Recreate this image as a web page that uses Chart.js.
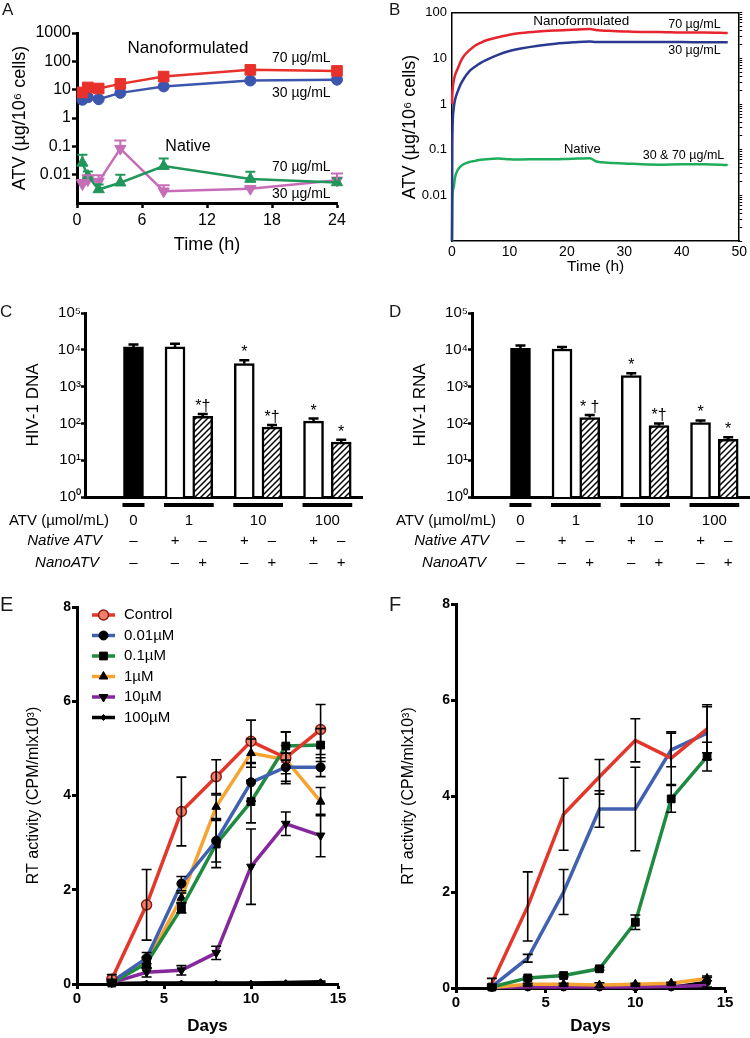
<!DOCTYPE html>
<html>
<head>
<meta charset="utf-8">
<title>ATV uptake and antiretroviral activity</title>
<script src="https://cdn.jsdelivr.net/npm/chart.js@4.4.1/dist/chart.umd.min.js"></script>
<style>
  html, body { margin: 0; padding: 0; background: #fff; }
  #fig { position: relative; width: 750px; height: 1038px; overflow: hidden; }
  #fig canvas { position: absolute; }
  .tag { position: absolute; font-family: "Liberation Sans", Arial, sans-serif; color: #1a1a1a; line-height: 1; }
</style>
</head>
<body>
<div id="fig">
  <canvas id="cA" width="375" height="260" style="left:0;top:0"></canvas>
  <canvas id="cB" width="375" height="280" style="left:375px;top:0"></canvas>
  <canvas id="cC" width="375" height="290" style="left:0;top:290px"></canvas>
  <canvas id="cD" width="363" height="290" style="left:387px;top:290px"></canvas>
  <canvas id="cE" width="375" height="448" style="left:0;top:590px"></canvas>
  <canvas id="cF" width="375" height="448" style="left:375px;top:590px"></canvas>
  <div class="tag" style="left:2px;top:1px;font-size:17px">A</div>
  <div class="tag" style="left:389px;top:1px;font-size:17px">B</div>
  <div class="tag" style="left:0;top:303px;font-size:17px">C</div>
  <div class="tag" style="left:389px;top:303px;font-size:17px">D</div>
  <div class="tag" style="left:0;top:594px;font-size:20px">E</div>
  <div class="tag" style="left:389px;top:594px;font-size:20px">F</div>
</div>
<script>
const FONT = '"Liberation Sans", Arial, Helvetica, sans-serif';
Chart.defaults.font.family = FONT;
Chart.defaults.color = '#000';
Chart.defaults.animation = false;
Chart.defaults.responsive = false;
Chart.defaults.plugins.legend.display = false;
Chart.defaults.plugins.tooltip.enabled = false;

// ---- A: cell uptake over 24 h (µg / 10^6 cells)
const aHours = [0.5, 1, 2, 4, 8, 16, 24];
const aNano70 = [8, 12, 11, 16, 29, 50, 46];
const aNano30 = [4.4, 5.4, 4.6, 7.7, 13, 21, 22.5];
const aNative70 = [0.026, 0.009, 0.003, 0.0052, 0.02, 0.007, 0.0053];
const aNative70Hi = [0.05, 0.013, 0.0045, 0.01, 0.037, 0.0127, 0.0075];
const aNative30 = [0.0047, 0.0065, 0.0057, 0.083, 0.0026, 0.0032, 0.0063];
const aNative30Hi = [0.0065, 0.0095, 0.0095, 0.16, 0.0042, 0.0036, 0.011];
const aLogTicks = [0.01, 0.1, 1, 10, 100, 1000];
const aHourTicks = [0, 6, 12, 18, 24];

// ---- B: continuous uptake trace over 48 h
const bHours = [0, 0.05, 0.1, 0.3, 0.5, 1, 1.5, 2, 3, 4, 5, 6, 8, 10, 12, 15, 18, 20, 22, 24, 25, 26, 28, 30, 33, 36, 40, 44, 48];
const bNano70 = [1.0, 1.5, 2.0, 3.2, 4.2, 6.0, 8.5, 11, 15, 19, 22, 25, 29, 33, 36, 39, 41, 42, 43, 44, 42, 41, 40, 39, 38, 38, 37, 37, 36];
const bNano30 = [0.001, 0.1, 0.3, 0.8, 1.2, 1.9, 2.7, 3.5, 5.2, 6.6, 8, 9.3, 12, 14.5, 16.5, 19, 21, 22, 23, 23.5, 23, 23, 23, 23, 23, 23, 23, 22.5, 22.5];
const bNative = [0.001, 0.006, 0.011, 0.015, 0.024, 0.036, 0.043, 0.048, 0.054, 0.057, 0.06, 0.062, 0.064, 0.062, 0.061, 0.062, 0.062, 0.063, 0.064, 0.065, 0.056, 0.053, 0.051, 0.05, 0.048, 0.047, 0.048, 0.048, 0.046];
const bLogTicks = [0.01, 0.1, 1, 10, 100];
const bHourTicks = [0, 10, 20, 30, 40, 50];

// ---- C / D: HIV-1 DNA and RNA copies
const doseGroups = ['0', '1', '10', '100'];
const barGroup = [0, 1, 1, 2, 2, 3, 3];
const barKind = ['control', 'native', 'nano', 'native', 'nano', 'native', 'nano'];
const dnaMean = [12000, 12000, 155, 4200, 79, 115, 31];
const dnaHi = [14000, 14500, 180, 5200, 90, 135, 36];
const dnaMarks = ['', '', '*†', '*', '*†', '*', '*'];
const rnaMean = [11000, 10500, 145, 2000, 87, 105, 37];
const rnaHi = [13000, 12000, 170, 2300, 100, 120, 42];
const rnaMarks = ['', '', '* †', '*', '*†', '*', '*'];
const copyTicks = [1, 10, 100, 1000, 10000, 100000];

// ---- E / F: RT activity (CPM/ml x10^3) by day
const rtDays = [2, 4, 6, 8, 10, 12, 14];
const rtLabels = ['Control', '0.01µM', '0.1µM', '1µM', '10µM', '100µM'];
const eControl = [0.1, 1.68, 3.66, 4.4, 5.15, 4.8, 5.4];
const e001 = [0.05, 0.55, 2.13, 3.04, 4.28, 4.6, 4.6];
const e01 = [0.02, 0.44, 1.61, 2.97, 3.87, 5.05, 5.07];
const e1 = [0.05, 0.45, 1.83, 3.76, 4.9, 4.76, 3.87];
const e10 = [0.03, 0.25, 0.29, 0.66, 2.49, 3.4, 3.15];
const e100 = [0.01, 0.02, 0.02, 0.02, 0.02, 0.03, 0.05];
const eControlErr = [0.1, 0.75, 0.73, 0.36, 0.45, 0.55, 0.53];
const e001Err = [0.05, 0.12, 0.15, 0.45, 0.4, 0.3, 0.2];
const e01Err = [0.03, 0.1, 0.1, 0.5, 0.45, 0.3, 0.35];
const e1Err = [0.03, 0.12, 0.1, 0.25, 0.3, 0.3, 0.3];
const e10Err = [0.02, 0.1, 0.1, 0.14, 0.8, 0.25, 0.45];
const e100Err = [0.01, 0.01, 0.01, 0.01, 0.01, 0.01, 0.01];
const fControl = [0.1, 1.7, 3.62, 4.4, 5.16, 4.79, 5.4];
const f001 = [0.03, 0.62, 2.0, 3.73, 3.73, 4.96, 5.31];
const f01 = [0.02, 0.21, 0.26, 0.4, 1.37, 3.94, 4.82];
const f1 = [0.01, 0.08, 0.08, 0.06, 0.08, 0.1, 0.2];
const f10 = [0.01, 0.02, 0.02, 0.02, 0.02, 0.03, 0.05];
const f100 = [0, 0.01, 0.01, 0.01, 0.01, 0.01, 0.12];
const fControlErr = [0.1, 0.72, 0.75, 0.36, 0.45, 0.55, 0.5];
const f001Err = [0.05, 0.08, 0.47, 0.38, 0.87, 0.35, 0.55];
const f01Err = [0.03, 0.03, 0.03, 0.03, 0.15, 0.28, 0.3];
const f1Err = [0.02, 0.02, 0.02, 0.05, 0.02, 0.02, 0.05];
const f10Err = [0, 0, 0, 0, 0, 0, 0];
const f100Err = [0, 0, 0, 0, 0, 0, 0.1];
const rtTicks = [0, 2, 4, 6, 8];
const dayTicks = [0, 5, 10, 15];

// ---------------------------------------------------------------------------
const pts = (xs, ys) => xs.map((x, i) => ({ x, y: ys[i] }));
const at = list => s => { s.ticks = list.map(v => ({ value: v })); };
const SUP = ['⁰', '¹', '²', '³', '⁴', '⁵'];
const axisLine = w => ({ width: w, color: '#000' });
const tickMarks = (len, w) => ({ drawOnChartArea: false, tickLength: len, tickWidth: w, color: '#000' });

// pin the plot rectangle (l,t)-(r,b) inside a W x H canvas
function frame(W, H, l, t, r, b) {
  return {
    padding: { left: 0, top: t, right: W - r, bottom: 0 },
    yFit: s => { s.width = l; },
    xFit: s => { s.height = H - b; },
  };
}

// whiskers: ds.hi = upper ends only, ds.err = symmetric
const errorBars = {
  id: 'errorBars',
  afterDatasetsDraw(chart) {
    const { ctx } = chart;
    chart.data.datasets.forEach((ds, i) => {
      if (!ds.hi && !ds.err) return;
      const meta = chart.getDatasetMeta(i);
      const y = chart.scales[meta.yAxisID];
      ctx.save();
      ctx.strokeStyle = ds.errColor || ds.borderColor;
      ctx.lineWidth = ds.errWidth || 2;
      meta.data.forEach((el, j) => {
        const raw = ds.data[j];
        const v = raw !== null && typeof raw === 'object' ? raw.y : raw;
        if (v === null || v === undefined) return;
        const top = ds.hi ? ds.hi[j] : v + ds.err[j];
        if (top === null || top === undefined || top <= v) return;
        const bot = ds.hi ? v : Math.max(v - ds.err[j], y.min);
        const yt = y.getPixelForValue(top), yb = y.getPixelForValue(bot);
        const c = ds.cap || 5;
        ctx.beginPath();
        ctx.moveTo(el.x, yb); ctx.lineTo(el.x, yt);
        ctx.moveTo(el.x - c, yt); ctx.lineTo(el.x + c, yt);
        if (!ds.hi) { ctx.moveTo(el.x - c, yb); ctx.lineTo(el.x + c, yb); }
        ctx.stroke();
      });
      ctx.restore();
    });
  },
};

// free text placed in data coordinates
function notes(items) {
  return {
    id: 'notes',
    afterDatasetsDraw(chart) {
      const { ctx, scales: { x, y } } = chart;
      ctx.save();
      ctx.fillStyle = '#000';
      ctx.textAlign = 'center';
      ctx.textBaseline = 'middle';
      items.forEach(n => {
        ctx.font = `${n.size}px ${FONT}`;
        ctx.fillText(n.text, x.getPixelForValue(n.x), y.getPixelForValue(n.y));
      });
      ctx.restore();
    },
  };
}

const topBorder = {
  id: 'topBorder',
  afterDraw(chart) {
    const { ctx, chartArea: a } = chart;
    ctx.save();
    ctx.strokeStyle = '#000';
    ctx.lineWidth = 1.5;
    ctx.beginPath(); ctx.moveTo(a.left, a.top); ctx.lineTo(a.right, a.top); ctx.stroke();
    ctx.restore();
  },
};

// ---- A
(() => {
  const f = frame(375, 260, 77, 33, 337, 203);
  const line = (data, color, style, r, extra) => Object.assign({
    data, borderColor: color, backgroundColor: color, borderWidth: 2.5, tension: 0, clip: false,
    pointStyle: style, pointRadius: r, pointHoverRadius: r,
    pointBackgroundColor: color, pointBorderColor: color, pointBorderWidth: 1,
  }, extra);
  new Chart(document.getElementById('cA'), {
    type: 'line',
    data: {
      datasets: [
        line(pts(aHours, aNano70), '#e8312b', 'rect', 7.5),
        line(pts(aHours, aNano30), '#3c56ad', 'circle', 5.5),
        line(pts(aHours, aNative70), '#21965a', 'triangle', 6.5, { hi: aNative70Hi, cap: 5 }),
        line(pts(aHours, aNative30), '#c76db7', 'triangle', 6.5, { pointRotation: 180, hi: aNative30Hi, cap: 6 }),
      ],
    },
    options: {
      layout: { padding: f.padding },
      scales: {
        x: {
          type: 'linear', min: 0, max: 24, afterFit: f.xFit, afterBuildTicks: at(aHourTicks),
          grid: tickMarks(5, 2.5), border: axisLine(3),
          ticks: { font: { size: 16 }, padding: 3 },
          title: { display: true, text: 'Time (h)', font: { size: 18 }, padding: { top: 0, bottom: 4 } },
        },
        y: {
          type: 'logarithmic', min: 0.001, max: 1000, afterFit: f.yFit, afterBuildTicks: at(aLogTicks),
          grid: tickMarks(5, 2.5), border: axisLine(3),
          ticks: { font: { size: 16 }, padding: 1, callback: v => String(v) },
          title: { display: true, text: 'ATV (µg/10⁶ cells)', font: { size: 18 }, padding: { top: 9, bottom: 0 } },
        },
      },
    },
    plugins: [errorBars, notes([
      { text: 'Nanoformulated', x: 10.25, y: 287, size: 17 },
      { text: '70 µg/mL', x: 20.7, y: 126, size: 14 },
      { text: '30 µg/mL', x: 20.7, y: 7.6, size: 14 },
      { text: 'Native', x: 10.25, y: 0.096, size: 16 },
      { text: '70 µg/mL', x: 20.7, y: 0.019, size: 14 },
      { text: '30 µg/mL', x: 20.7, y: 0.0021, size: 14 },
    ])],
  });
})();

// ---- B
(() => {
  const minor = [];
  for (let k = -3; k <= 1; k++) for (let m = 1; m <= 9; m++) minor.push(m * Math.pow(10, k));
  minor.push(100);
  const trace = (ys, color) => ({
    data: pts(bHours, ys), borderColor: color, borderWidth: 2.5, pointRadius: 0,
    cubicInterpolationMode: 'monotone', clip: false,
  });
  new Chart(document.getElementById('cB'), {
    type: 'line',
    data: {
      datasets: [
        trace(bNano70, '#e8242e'),
        trace(bNano30, '#2b3990'),
        trace(bNative, '#1fad5c'),
      ],
    },
    options: {
      layout: { padding: { left: 0, top: 7, right: 0, bottom: 0 } },
      scales: {
        x: {
          type: 'linear', min: 0, max: 50, afterFit: s => { s.height = 280 - 241; },
          afterBuildTicks: at(bHourTicks),
          grid: { drawOnChartArea: false, drawTicks: false }, border: axisLine(1.5),
          ticks: { font: { size: 14 }, padding: 3 },
          title: { display: true, text: 'Time (h)', font: { size: 15.5 }, padding: { top: 0, bottom: 4 } },
        },
        y: {
          type: 'logarithmic', min: 0.001, max: 100, afterFit: s => { s.width = 77; },
          afterBuildTicks: at(bLogTicks),
          grid: { drawOnChartArea: false, drawTicks: false }, border: axisLine(1.5),
          ticks: { font: { size: 13 }, padding: 5, callback: v => String(v) },
          title: { display: true, text: 'ATV (µg/10⁶ cells)', font: { size: 18 }, padding: { top: 24, bottom: 0 } },
        },
        yR: {
          type: 'logarithmic', position: 'right', min: 0.001, max: 100,
          afterFit: s => { s.width = 375 - 366; }, afterBuildTicks: at(minor),
          grid: { drawOnChartArea: false, tickLength: 3, tickWidth: 1, color: '#000' }, border: axisLine(1.5),
          ticks: { display: false },
        },
      },
    },
    plugins: [topBorder, notes([
      { text: 'Nanoformulated', x: 22.5, y: 66, size: 13.5 },
      { text: '70 µg/mL', x: 42.2, y: 54, size: 12.5 },
      { text: '30 µg/mL', x: 42.2, y: 15, size: 12.5 },
      { text: 'Native', x: 22.7, y: 0.104, size: 13 },
      { text: '30 & 70 µg/mL', x: 40.3, y: 0.074, size: 12.5 },
    ])],
  });
})();

// ---- C / D
function hatch() {
  const c = document.createElement('canvas');
  c.width = c.height = 6;
  const g = c.getContext('2d');
  g.fillStyle = '#fff'; g.fillRect(0, 0, 6, 6);
  g.strokeStyle = '#000'; g.lineWidth = 1.5;
  g.beginPath();
  g.moveTo(-1, 7); g.lineTo(7, -1);
  g.moveTo(-1, 1); g.lineTo(1, -1);
  g.moveTo(5, 7); g.lineTo(7, 5);
  g.stroke();
  return g.createPattern(c, 'repeat');
}
const fills = { control: '#000', native: '#fff', nano: hatch() };

// one category slot per bar; one empty slot inside a dose group, two between groups
function slotLayout() {
  const slots = [null, null, null];
  barGroup.forEach((g, i) => {
    if (i > 0) slots.push(...(g === barGroup[i - 1] ? [null] : [null, null]));
    slots.push(i);
  });
  slots.push(null);
  return slots;
}

function doseTable(slots) {
  return {
    id: 'doseTable',
    afterDraw(chart) {
      const { ctx, chartArea: a } = chart;
      const meta = chart.getDatasetMeta(0);
      const bar = k => meta.data[slots.indexOf(k)];
      ctx.save();
      ctx.fillStyle = '#000'; ctx.strokeStyle = '#000';
      ctx.textBaseline = 'middle';
      ctx.textAlign = 'right';
      ctx.font = `15px ${FONT}`;
      ctx.fillText('ATV (µmol/mL)', a.left + 24, a.bottom + 24);
      ctx.font = `italic 15px ${FONT}`;
      ctx.fillText('Native ATV', a.left + 17, a.bottom + 44);
      ctx.fillText('NanoATV', a.left + 14, a.bottom + 66);
      ctx.textAlign = 'center';
      ctx.font = `15px ${FONT}`;
      doseGroups.forEach((g, gi) => {
        const els = barGroup.map((grp, k) => (grp === gi ? bar(k) : null)).filter(Boolean);
        const first = els[0], last = els[els.length - 1];
        const x0 = first.x - first.width / 2 - 1, x1 = last.x + last.width / 2 + 1;
        ctx.lineWidth = 4;
        ctx.beginPath(); ctx.moveTo(x0, a.bottom + 8); ctx.lineTo(x1, a.bottom + 8); ctx.stroke();
        ctx.fillText(g, (x0 + x1) / 2, a.bottom + 24);
      });
      barKind.forEach((kind, k) => {
        const el = bar(k);
        ctx.fillText(kind === 'native' ? '+' : '–', el.x, a.bottom + 44);
        ctx.fillText(kind === 'nano' ? '+' : '–', el.x, a.bottom + 66);
      });
      ctx.restore();
    },
  };
}

const barMarks = {
  id: 'barMarks',
  afterDatasetsDraw(chart) {
    const { ctx } = chart;
    const ds = chart.data.datasets[0];
    const y = chart.scales.y;
    ctx.save();
    ctx.fillStyle = '#000';
    ctx.textAlign = 'center';
    ctx.textBaseline = 'alphabetic';
    ctx.font = `16px ${FONT}`;
    chart.getDatasetMeta(0).data.forEach((el, j) => {
      const m = ds.marks[j];
      if (!m) return;
      ctx.fillText(m, el.x, y.getPixelForValue(ds.hi[j]) - 3);
    });
    ctx.restore();
  },
};

function copiesChart(id, W, mean, hi, marks, title) {
  const f = frame(W, 290, 85, 23, 85 + 277, 207);
  const slots = slotLayout();
  const pick = (arr, empty) => slots.map(k => (k === null ? empty : arr[k]));
  new Chart(document.getElementById(id), {
    type: 'bar',
    data: {
      labels: slots.map(() => ''),
      datasets: [{
        data: pick(mean, null), hi: pick(hi, null), marks: pick(marks, ''),
        backgroundColor: slots.map(k => (k === null ? '#fff' : fills[barKind[k]])),
        borderColor: '#000', borderWidth: 2.5, barThickness: 20,
        cap: 5, errColor: '#000', errWidth: 2.5,
      }],
    },
    options: {
      layout: { padding: f.padding },
      scales: {
        x: {
          afterFit: f.xFit, grid: { display: false }, border: axisLine(3),
          ticks: { display: false },
        },
        y: {
          type: 'logarithmic', min: 1, max: 100000, afterFit: f.yFit, afterBuildTicks: at(copyTicks),
          grid: tickMarks(4, 2.5), border: axisLine(3),
          ticks: { font: { size: 15 }, padding: 0, callback: v => '10' + SUP[Math.round(Math.log10(v))] },
          title: { display: true, text: title, font: { size: 17 }, padding: { top: 23, bottom: 0 } },
        },
      },
    },
    plugins: [errorBars, barMarks, doseTable(slots)],
  });
}
copiesChart('cC', 375, dnaMean, dnaHi, dnaMarks, 'HIV-1 DNA');
copiesChart('cD', 363, rnaMean, rnaHi, rnaMarks, 'HIV-1 RNA');

// ---- E / F
const rtColors = ['#e4372b', '#4161b0', '#1f8b41', '#f6a332', '#86289b', '#000000'];

const rtLegend = {
  id: 'rtLegend',
  afterDraw(chart) {
    const { ctx, chartArea: a } = chart;
    const x0 = a.left + 15, y0 = a.top + 8;
    chart.data.datasets.forEach((ds, i) => {
      const y = y0 + i * 20.5;
      ctx.save();
      ctx.strokeStyle = ds.borderColor; ctx.lineWidth = 3.5;
      ctx.beginPath(); ctx.moveTo(x0, y); ctx.lineTo(x0 + 23, y); ctx.stroke();
      ctx.fillStyle = ds.pointBackgroundColor; ctx.strokeStyle = ds.pointBorderColor;
      ctx.lineWidth = ds.pointBorderWidth;
      Chart.helpers.drawPoint(ctx, {
        pointStyle: ds.pointStyle, rotation: ds.pointRotation, radius: ds.pointRadius || 3.5,
        borderWidth: ds.pointBorderWidth,
      }, x0 + 11.5, y);
      ctx.fillStyle = '#000'; ctx.font = `15px ${FONT}`;
      ctx.textAlign = 'left'; ctx.textBaseline = 'middle';
      ctx.fillText(ds.label, x0 + 32, y);
      ctx.restore();
    });
  },
};

function rtChart(id, box, means, errs, markers, withLegend) {
  const f = frame(375, 448, ...box);
  const datasets = means.map((m, i) => {
    const mk = markers[i];
    return {
      label: rtLabels[i], data: pts(rtDays, m), err: errs[i], cap: 5, errColor: '#000', errWidth: 1.6,
      borderColor: rtColors[i], backgroundColor: rtColors[i], borderWidth: 3.5, tension: 0, clip: false,
      pointStyle: mk.style, pointRadius: mk.r, pointHoverRadius: mk.r, pointRotation: mk.rot || 0,
      pointBackgroundColor: mk.fill || '#000', pointBorderColor: mk.line || '#000', pointBorderWidth: mk.bw || 1,
    };
  });
  new Chart(document.getElementById(id), {
    type: 'line',
    data: { datasets },
    options: {
      layout: { padding: f.padding },
      scales: {
        x: {
          type: 'linear', min: 0, max: 15, afterFit: f.xFit, afterBuildTicks: at(dayTicks),
          grid: tickMarks(5, 3), border: axisLine(3),
          ticks: { font: { size: 15, weight: 'bold' }, padding: 1 },
          title: { display: true, text: 'Days', font: { size: 17, weight: 'bold' }, padding: { top: 0, bottom: 1 } },
        },
        y: {
          min: 0, max: 8, afterFit: f.yFit, afterBuildTicks: at(rtTicks),
          grid: tickMarks(5, 3), border: axisLine(3),
          ticks: { font: { size: 14, weight: 'bold' }, padding: 1 },
          title: { display: true, text: 'RT activity (CPM/mlx10³)', font: { size: 16 }, padding: { top: 24, bottom: 0 } },
        },
      },
    },
    plugins: withLegend ? [errorBars, rtLegend] : [errorBars],
  });
}

rtChart('cE', [77, 17, 338, 394],
  [eControl, e001, e01, e1, e10, e100],
  [eControlErr, e001Err, e01Err, e1Err, e10Err, e100Err],
  [
    { style: 'circle', r: 5, fill: '#f0806c', line: '#8c1c12', bw: 1.5 },
    { style: 'circle', r: 4.5 },
    { style: 'rect', r: 5.5 },
    { style: 'triangle', r: 5 },
    { style: 'triangle', r: 5, rot: 180 },
    { style: 'rectRot', r: 3 },
  ], true);

rtChart('cF', [81, 14, 350, 398],
  [fControl, f001, f01, f1, f10, f100],
  [fControlErr, f001Err, f01Err, f1Err, f10Err, f100Err],
  [
    { style: 'circle', r: 0 },
    { style: 'circle', r: 0 },
    { style: 'rect', r: 5.5 },
    { style: 'triangle', r: 5 },
    { style: 'circle', r: 0 },
    { style: 'circle', r: 3.5 },
  ], false);
</script>
</body>
</html>
